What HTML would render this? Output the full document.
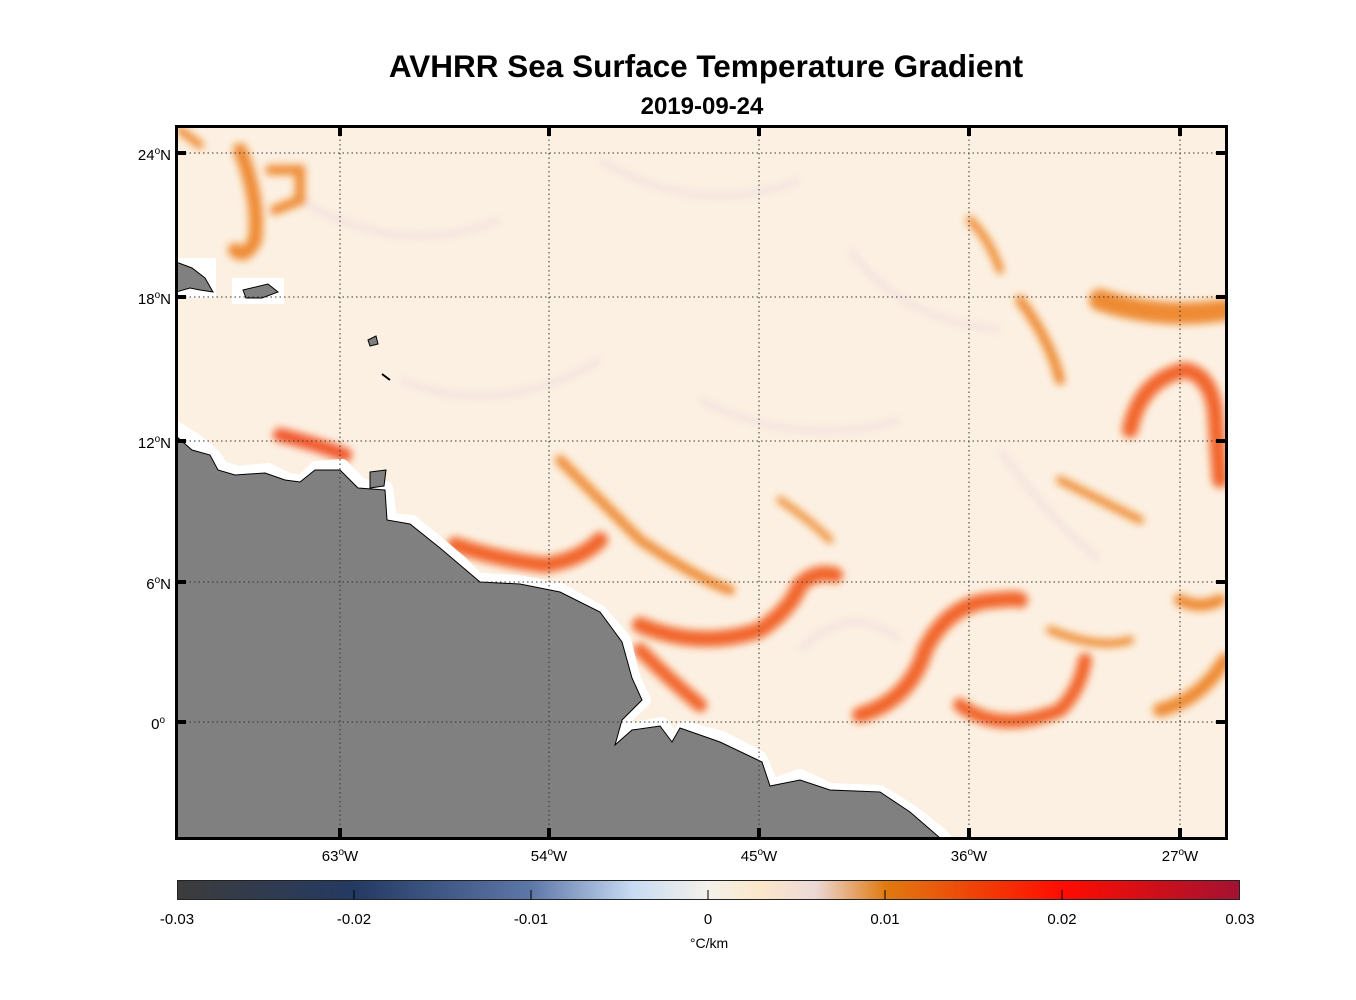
<!DOCTYPE html>
<html><head><style>
body{margin:0;background:#fff;width:1356px;height:1000px;position:relative;font-family:"Liberation Sans",Arial,sans-serif;overflow:hidden}
.t{position:absolute;white-space:nowrap}
</style></head><body>
<div class="t" style="left:0;width:1412px;top:48px;text-align:center;font-size:31.5px;font-weight:bold">AVHRR Sea Surface Temperature Gradient</div>
<div class="t" style="left:0;width:1404px;top:93px;text-align:center;font-size:24px;font-weight:bold">2019-09-24</div>
<svg width="1356" height="1000" style="position:absolute;left:0;top:0">
<defs>
<filter id="b" x="-10%" y="-10%" width="120%" height="120%"><feGaussianBlur stdDeviation="4"/></filter>
<linearGradient id="cb" x1="0" x2="1">
<stop offset="0" stop-color="#3c3c3c"/><stop offset="0.167" stop-color="#243a63"/>
<stop offset="0.333" stop-color="#5d77a8"/><stop offset="0.43" stop-color="#c9dcf3"/>
<stop offset="0.5" stop-color="#f4f1ea"/><stop offset="0.55" stop-color="#fbe7c9"/>
<stop offset="0.6" stop-color="#ecd9d8"/><stop offset="0.667" stop-color="#e07a10"/>
<stop offset="0.833" stop-color="#ff0c00"/><stop offset="1" stop-color="#a31232"/>
</linearGradient>
<clipPath id="c"><rect x="176" y="126" width="1050" height="712"/></clipPath>
</defs>
<g clip-path="url(#c)">
<rect x="176" y="126" width="1050" height="712" fill="#fcf0e2"/>
<g fill="none" stroke="#ecd8dc" stroke-width="6" opacity="0.6" filter="url(#b)">
<path d="M300 200 Q400 260 500 220"/><path d="M600 160 Q700 220 800 180"/><path d="M850 250 Q900 320 1000 330"/>
<path d="M400 380 Q500 420 600 360"/><path d="M700 400 Q800 450 900 420"/><path d="M250 560 Q300 600 350 560"/>
<path d="M800 650 Q850 600 900 640"/><path d="M1000 450 Q1050 520 1100 560"/>
</g>
<g fill="none" stroke="#ec7a18" stroke-linecap="round" filter="url(#b)" opacity="0.85">
<path d="M455 545 Q500 560 545 565 Q580 560 600 540" stroke-width="16" stroke="#f05010"/>
<path d="M640 625 Q700 650 760 630 Q790 610 800 585 Q815 570 835 575" stroke-width="16" stroke="#f05010"/>
<path d="M560 460 Q600 500 640 540 Q700 580 730 590" stroke-width="10"/>
<path d="M640 650 Q670 680 700 705" stroke-width="14" stroke="#f05010"/>
<path d="M860 715 Q910 700 925 650 Q950 600 1000 600 Q1015 598 1020 600" stroke-width="16" stroke="#f05010"/>
<path d="M960 705 Q1000 735 1060 710 Q1080 690 1085 660" stroke-width="14" stroke="#f05010"/>
<path d="M1100 300 Q1160 320 1225 310" stroke-width="22"/>
<path d="M1130 430 Q1140 380 1185 370 Q1210 375 1215 410 L1220 480" stroke-width="16" stroke="#f05010"/>
<path d="M1020 300 Q1050 340 1060 380" stroke-width="10"/>
<path d="M1160 710 Q1200 700 1225 660" stroke-width="14"/>
<path d="M1180 600 Q1200 610 1220 600" stroke-width="12"/>
<path d="M240 150 Q260 200 255 240 Q245 260 235 250" stroke-width="14"/>
<path d="M270 170 L300 170 L300 200 L275 210" stroke-width="10"/>
<path d="M280 435 Q320 445 345 455" stroke-width="14" stroke="#f04010"/>
<path d="M1050 630 Q1100 650 1130 640" stroke-width="8"/>
<path d="M970 220 Q990 240 1000 270" stroke-width="8"/>
<path d="M1060 480 Q1100 500 1140 520" stroke-width="8"/>
<path d="M780 500 Q810 520 830 540" stroke-width="7"/>
<path d="M180 130 L200 145" stroke-width="8"/>
</g>
<path d="M176 428 L195 440 L213 455 L222 468 L238 473 L268 470 L288 480 L302 482 L316 468 L342 466 L362 486 L386 488 L390 520 L412 522 L440 545 L460 562 L478 580 L518 582 L560 590 L600 612 L624 640 L634 680 L644 700 L620 722 L612 748 L630 730 L662 724 L674 742 L684 728 L722 738 L760 758 L772 786 L800 776 L830 790 L880 792 L912 812 L940 834 L945 840 L176 840 Z" fill="#fff" stroke="#fff" stroke-width="14" stroke-linejoin="round"/>
<path d="M176 436 L192 450 L210 455 L218 470 L235 475 L265 473 L285 480 L300 482 L315 470 L340 470 L358 488 L385 490 L387 520 L410 524 L440 548 L460 565 L480 582 L520 584 L560 592 L600 612 L622 642 L632 678 L642 700 L622 720 L615 745 L632 730 L660 726 L672 742 L680 728 L720 742 L762 762 L770 786 L800 780 L830 790 L880 792 L910 812 L940 838 L176 838 Z" fill="#808080" stroke="#000" stroke-width="1"/>
<rect x="232" y="278" width="52" height="26" fill="#fff"/>
<path d="M243 290 L268 284 L278 292 L262 298 L246 298 Z" fill="#808080" stroke="#000"/>
<rect x="176" y="258" width="40" height="40" fill="#fff"/>
<path d="M176 262 L192 268 L205 278 L213 292 L200 290 L190 288 L176 292 Z" fill="#808080" stroke="#000"/>
<path d="M368 340 L376 336 L378 344 L370 346 Z" fill="#808080" stroke="#000"/>
<path d="M382 374 L390 380" stroke="#000" stroke-width="2"/>
<path d="M370 472 L386 470 L384 486 L370 488 Z" fill="#808080" stroke="#000"/>
</g>
<g stroke="#333" stroke-width="1" stroke-dasharray="1.5,3">
<line x1="340" y1="126" x2="340" y2="838"/><line x1="549" y1="126" x2="549" y2="838"/>
<line x1="759" y1="126" x2="759" y2="838"/><line x1="969" y1="126" x2="969" y2="838"/>
<line x1="1180" y1="126" x2="1180" y2="838"/>
<line x1="176" y1="153" x2="1226" y2="153"/><line x1="176" y1="297" x2="1226" y2="297"/>
<line x1="176" y1="441" x2="1226" y2="441"/><line x1="176" y1="582" x2="1226" y2="582"/>
<line x1="176" y1="722" x2="1226" y2="722"/>
</g>
<rect x="176.5" y="126.5" width="1050" height="712" fill="none" stroke="#000" stroke-width="3"/>
<g stroke="#000" stroke-width="4">
<line x1="340" y1="838" x2="340" y2="828"/><line x1="549" y1="838" x2="549" y2="828"/>
<line x1="759" y1="838" x2="759" y2="828"/><line x1="969" y1="838" x2="969" y2="828"/>
<line x1="1180" y1="838" x2="1180" y2="828"/>
<line x1="340" y1="126" x2="340" y2="136"/><line x1="549" y1="126" x2="549" y2="136"/>
<line x1="759" y1="126" x2="759" y2="136"/><line x1="969" y1="126" x2="969" y2="136"/>
<line x1="1180" y1="126" x2="1180" y2="136"/>
<line x1="176" y1="153" x2="186" y2="153"/><line x1="176" y1="297" x2="186" y2="297"/>
<line x1="176" y1="441" x2="186" y2="441"/><line x1="176" y1="582" x2="186" y2="582"/>
<line x1="176" y1="722" x2="186" y2="722"/>
<line x1="1226" y1="153" x2="1216" y2="153"/><line x1="1226" y1="297" x2="1216" y2="297"/>
<line x1="1226" y1="441" x2="1216" y2="441"/><line x1="1226" y1="582" x2="1216" y2="582"/>
<line x1="1226" y1="722" x2="1216" y2="722"/>
</g>
<rect x="177.5" y="880.5" width="1062" height="19" fill="url(#cb)" stroke="#222" stroke-width="1"/>
<g stroke="#000" stroke-width="1">
<line x1="354" y1="890" x2="354" y2="899"/><line x1="531" y1="890" x2="531" y2="899"/>
<line x1="708" y1="890" x2="708" y2="899"/><line x1="885" y1="890" x2="885" y2="899"/>
<line x1="1062" y1="890" x2="1062" y2="899"/>
</g>
<g font-family="Liberation Sans,Arial,sans-serif" font-size="15" fill="#000" text-anchor="middle">
<text x="177" y="924">-0.03</text><text x="354" y="924">-0.02</text><text x="531" y="924">-0.01</text>
<text x="708" y="924">0</text><text x="885" y="924">0.01</text><text x="1062" y="924">0.02</text><text x="1240" y="924">0.03</text>
<text x="709" y="948" font-size="14">°C/km</text>
</g>
<g font-family="Liberation Sans,Arial,sans-serif" font-size="15" fill="#000">
<text x="340" y="861" text-anchor="middle">63<tspan dy="-6" font-size="10">o</tspan><tspan dy="6">W</tspan></text>
<text x="549" y="861" text-anchor="middle">54<tspan dy="-6" font-size="10">o</tspan><tspan dy="6">W</tspan></text>
<text x="759" y="861" text-anchor="middle">45<tspan dy="-6" font-size="10">o</tspan><tspan dy="6">W</tspan></text>
<text x="969" y="861" text-anchor="middle">36<tspan dy="-6" font-size="10">o</tspan><tspan dy="6">W</tspan></text>
<text x="1180" y="861" text-anchor="middle">27<tspan dy="-6" font-size="10">o</tspan><tspan dy="6">W</tspan></text>
<g text-anchor="end">
<text x="171" y="160">24<tspan dy="-6" font-size="10">o</tspan><tspan dy="6">N</tspan></text>
<text x="171" y="304">18<tspan dy="-6" font-size="10">o</tspan><tspan dy="6">N</tspan></text>
<text x="171" y="448">12<tspan dy="-6" font-size="10">o</tspan><tspan dy="6">N</tspan></text>
<text x="171" y="589">6<tspan dy="-6" font-size="10">o</tspan><tspan dy="6">N</tspan></text>
<text x="165" y="729">0<tspan dy="-6" font-size="10">o</tspan></text>
</g>
</g>
</svg>
</body></html>
